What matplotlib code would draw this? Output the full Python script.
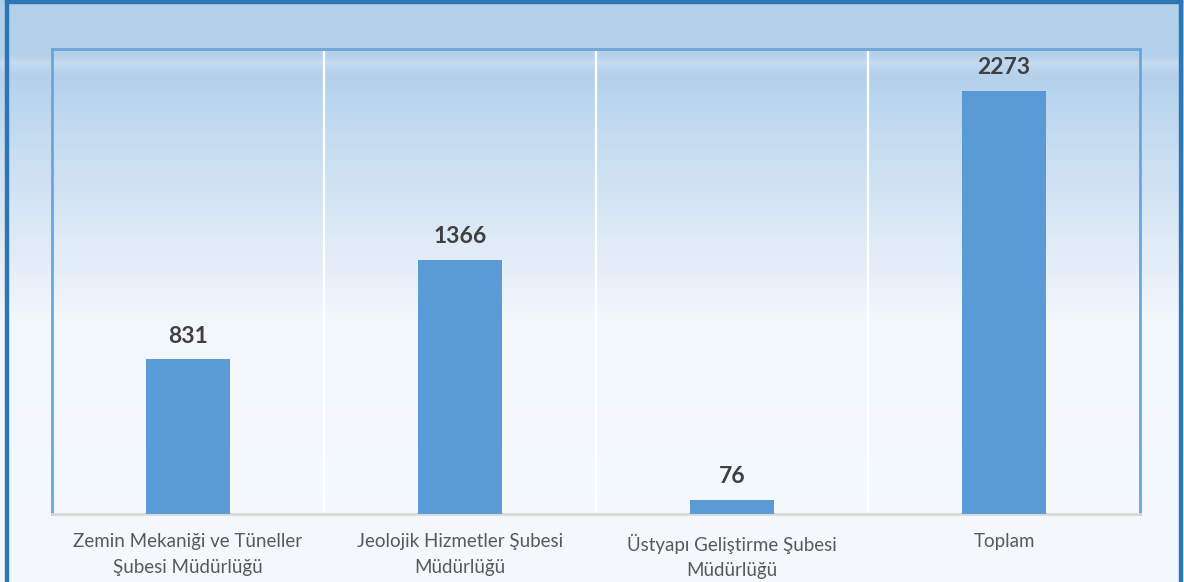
import numpy as np
import matplotlib
matplotlib.use("Agg")
import matplotlib.pyplot as plt
from matplotlib.patches import Rectangle

categories = [
    "Zemin Mekaniği ve Tüneller\nŞubesi Müdürlüğü",
    "Jeolojik Hizmetler Şubesi\nMüdürlüğü",
    "Üstyapı Geliştirme Şubesi\nMüdürlüğü",
    "Toplam",
]
values = [831, 1366, 76, 2273]

W, H = 1184, 582
plt.rcParams['font.family'] = ['Lato', 'DejaVu Sans']

fig = plt.figure(figsize=(W / 100, H / 100), dpi=100)

# background gradient (light blue at top fading to near white)
stops_y = [0, 55, 62, 75, 150, 250, 320, 582]
stops_c = np.array([
    (179, 208, 234), (181, 210, 236), (196, 218, 239), (180, 209, 236),
    (200, 222, 241), (225, 236, 247), (242, 247, 252), (245, 249, 252),
]) / 255.0
ys = np.arange(H)
grad = np.stack([np.interp(ys, stops_y, stops_c[:, k]) for k in range(3)], axis=1)
img = np.repeat(grad[:, None, :], 4, axis=1)
bg = fig.add_axes([0, 0, 1, 1], zorder=-10)
bg.imshow(img, aspect='auto', extent=[0, 1, 0, 1], origin='upper')
bg.set_axis_off()

# outer frame (dark blue on left, top, right)
border = "#2E75B6"
fig.patches.append(Rectangle((5 / W, 0), 3 / W, 1, transform=fig.transFigure,
                             color=border, zorder=5))
fig.patches.append(Rectangle((1179 / W, 0), 3 / W, 1, transform=fig.transFigure,
                             color=border, zorder=5))
fig.patches.append(Rectangle((5 / W, 1 - 3 / H), 1177 / W, 3 / H,
                             transform=fig.transFigure, color=border, zorder=5))

ax = fig.add_axes([52 / W, 68 / H, (1140 - 52) / W, (514 - 48.5) / H])
ax.patch.set_alpha(0)

x = np.arange(len(values))
ax.bar(x, values, width=0.31, color="#5B9BD5", zorder=3)
ax.set_xlim(-0.5, len(values) - 0.5)
ax.set_ylim(0, 2500)

for xi, v in zip(x, values):
    ax.annotate(str(v), (xi, v), xytext=(0, 9), textcoords='offset points',
                ha='center', va='bottom', fontsize=16.5, fontweight='bold',
                color='#404040')

for b in [0.5, 1.5, 2.5]:
    ax.axvline(b, color='white', lw=1.6, zorder=1)

for s in ['left', 'top', 'right']:
    ax.spines[s].set_color('#6AA5DC')
    ax.spines[s].set_linewidth(2)
ax.spines['bottom'].set_color('#D9D9D9')
ax.spines['bottom'].set_linewidth(2)

ax.set_yticks([])
ax.set_xticks(x)
ax.set_xticklabels(categories, fontsize=13.5, color='#595959', linespacing=1.6)
ax.tick_params(axis='x', length=0, pad=14)

fig.savefig("out.png", dpi=100)
